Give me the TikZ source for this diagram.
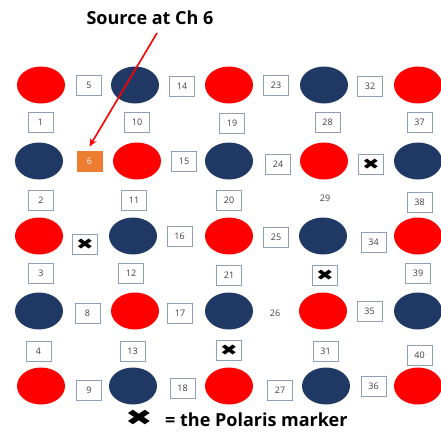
\documentclass[tikz,border=0pt]{standalone}
\usepackage{fontspec}
\setmainfont{Open Sans}
\newfontfamily\symf{DejaVu Sans}
\usetikzlibrary{shapes.geometric,arrows.meta}
\definecolor{navy}{HTML}{203864}
\definecolor{boxgray}{HTML}{8FA0B5}
\definecolor{numgray}{HTML}{404040}
\definecolor{orng}{HTML}{ED7D31}
\newcommand{\polx}{\scalebox{1.4}[1]{\symf ✖}}
\begin{document}
\begin{tikzpicture}[x=1pt,y=-1pt,
 dot/.style={ellipse, minimum width=48pt, minimum height=37pt, inner sep=0pt},
 rdot/.style={dot, fill=red},
 bdot/.style={dot, fill=navy},
 numbox/.style={draw=boxgray, line width=1pt, minimum width=25pt, minimum height=20pt, inner sep=0pt, font=\fontsize{9}{10}\selectfont, text=numgray, fill=white},
 plainnum/.style={inner sep=0pt, font=\fontsize{9}{10}\selectfont, text=numgray},
 srcbox/.style={numbox, draw=orng, fill=orng, text=white},
 xbox/.style={numbox, font=\fontsize{15}{15}\selectfont, text=black},
 bigtext/.style={inner sep=0pt, font=\bfseries\fontsize{18}{20}\selectfont, text=black}
]
\useasboundingbox (0,0) rectangle (441,432);
% ellipses
\node[rdot] (e11) at (41,85) {};
\node[bdot] (e12) at (135,85) {};
\node[rdot] (e13) at (229,85) {};
\node[bdot] (e14) at (324,85) {};
\node[rdot] (e15) at (418,85) {};
\node[bdot] (e21) at (39,161) {};
\node[rdot] (e22) at (137,161) {};
\node[bdot] (e23) at (229,161) {};
\node[rdot] (e24) at (324,161) {};
\node[bdot] (e25) at (418,161) {};
\node[rdot] (e31) at (39,236) {};
\node[bdot] (e32) at (133,236) {};
\node[rdot] (e33) at (229,236) {};
\node[bdot] (e34) at (323,236) {};
\node[rdot] (e35) at (418,236) {};
\node[bdot] (e41) at (39,311) {};
\node[rdot] (e42) at (135,311) {};
\node[bdot] (e43) at (229,311) {};
\node[rdot] (e44) at (323,311) {};
\node[bdot] (e45) at (418,311) {};
\node[rdot] (e51) at (41,386) {};
\node[bdot] (e52) at (133,386) {};
\node[rdot] (e53) at (229,386) {};
\node[bdot] (e54) at (326,386) {};
\node[rdot] (e55) at (418,386) {};
% numbered boxes
\node[numbox] (b1) at (40.5,122) {1};
\node[numbox] (b10) at (137,122) {10};
\node[numbox] (b19) at (232,123) {19};
\node[numbox] (b28) at (327.5,122) {28};
\node[numbox] (b37) at (419.5,122) {37};
\node[numbox] (b5) at (89,85) {5};
\node[numbox] (b14) at (182,86) {14};
\node[numbox] (b23) at (276,85) {23};
\node[numbox] (b32) at (370,86) {32};
\node[srcbox] (b6) at (89.5,161) {6};
\node[numbox] (b15) at (184,161) {15};
\node[numbox] (b24) at (278,164) {24};
\node[xbox] (b33) at (371,164) {\polx};
\node[numbox] (b2) at (41,200) {2};
\node[numbox] (b11) at (134,200) {11};
\node[numbox] (b20) at (229,200) {20};
\node[plainnum] (b29) at (325,198) {29};
\node[numbox] (b38) at (419.5,202) {38};
\node[xbox] (b7) at (85,244) {\polx};
\node[numbox] (b16) at (179.5,236) {16};
\node[numbox] (b25) at (276,237) {25};
\node[numbox] (b34) at (373.5,242) {34};
\node[numbox] (b3) at (41,273) {3};
\node[numbox] (b12) at (131,273) {12};
\node[numbox] (b21) at (229,275) {21};
\node[xbox] (b30) at (325,275) {\polx};
\node[numbox] (b39) at (418,273) {39};
\node[numbox] (b8) at (87.5,313) {8};
\node[numbox] (b17) at (180,313) {17};
\node[plainnum] (b26) at (275,313) {26};
\node[numbox] (b35) at (369.5,311) {35};
\node[numbox] (b4) at (38.5,351) {4};
\node[numbox] (b13) at (132.5,351) {13};
\node[xbox] (b22) at (229,350) {\polx};
\node[numbox] (b31) at (325.5,351) {31};
\node[numbox] (b40) at (419.5,355) {40};
\node[numbox] (b9) at (89,390) {9};
\node[numbox] (b18) at (182.5,388) {18};
\node[numbox] (b27) at (280,390) {27};
\node[numbox] (b36) at (373.5,386) {36};
% title and arrow
\node[bigtext] (title) at (150,18) {Source at Ch 6};
\coordinate (src) at (157,33);
\draw[red, line width=1.6pt, -{Stealth[length=8pt,width=7pt]}] (src) -- ([yshift=4pt]b6.north);
% legend
\node[inner sep=0pt, font=\fontsize{22}{22}\selectfont] (legx) at (139,418) {\scalebox{1.5}[1]{\symf ✖}};
\node[bigtext, anchor=west] (legt) at (165,420) {= the Polaris marker};
\end{tikzpicture}
\end{document}
